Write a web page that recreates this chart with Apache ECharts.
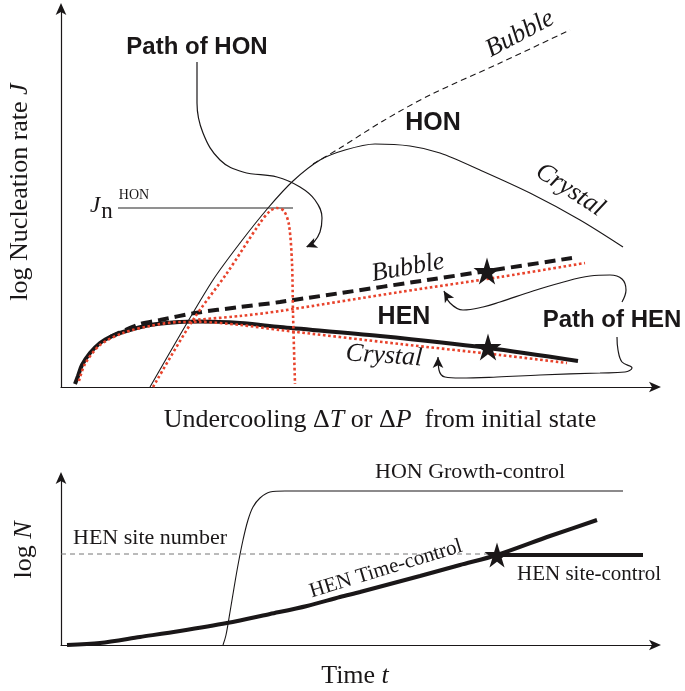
<!DOCTYPE html>
<html><head><meta charset="utf-8">
<script src="https://cdn.jsdelivr.net/npm/echarts@6/dist/echarts.min.js"></script>
<style>html,body{margin:0;padding:0;background:#fff}#c{width:685px;height:691px}</style>
</head><body><div id="c"></div>
<script>
// ---- Top panel (arbitrary schematic units: x = undercooling, y = log J) ----
const henCrystal = [[14,3],[17,11],[21,22],[29,34],[39,44],[49,50],[62,55],[89,62],[119,65],[139,65.5],[179,64],[219,60],[319,51],[427,39],[517,26]];
const henCrystalRed = [[18,6],[24,23],[39,42],[62,54],[89,61],[119,65],[139,65],[179,62],[219,57],[339,43],[439,32],[506,24]];
const henBubble = [[49,50],[62,56],[79,63],[99,67],[134,74],[179,80],[219,85],[426,116],[511,129]];
const henBubbleRed = [[132,67],[179,71],[219,76],[339,95],[439,110],[524,124]];
const honCrystal = [[89,0],[119,52],[152,107],[179,144],[207,179],[232,206],[259,227],[284,237],[314,243],[349,241],[379,234],[419,217],[469,194],[519,167],[562,140]];
const honBubble = [[252,223],[279,239],[322,266],[369,292],[439,324],[509,357]];
const honRed = [[92,0],[132,67],[166,114],[199,164],[209,176],[216,179],[223,176],[228,162],[231,124],[232,74],[234,3]];
const jnLine = [[57,179],[232,179]];
const pathHON = [[136,325],[136,284],[142,254],[159,227],[182,215],[216,210],[239,200],[254,187],[261,169],[259,155],[253,145],[246,140]];
const pathHENup = [[561,85],[565,97],[561,108],[549,112],[529,111],[499,104],[472,96],[439,85],[422,80],[402,77],[389,84],[383,96]];
const pathHENlow = [[556,50],[557,37],[561,25],[571,19],[564,15],[539,14],[479,12],[436,10],[399,9],[384,10],[378,17],[377,30]];
const topStars = [[426,116],[427,40]];
const topArrows = [[245,140,112],[383,96,30],[377,30,0]];
// ---- Bottom panel (x = time, y = log N) ----
const henTime = [[6,0],[39,2],[79,8],[119,14],[166,22],[209,31],[246,39],[279,48],[299,53],[359,69],[399,80],[436,90],[489,109],[536,125]];
const henSite = [[436,90],[582,90]];
const henSiteNumber = [[0,91],[436,91]];
const honGrowth = [[162,0],[165,10],[169,33],[173,57],[177,80],[182,105],[187,125],[192,138],[199,147],[209,153],[224,154],[562,154]];
const bottomStar = [[436,90]];

const STAR = 'path://M50,0 L61,35 L98,35 L68,57 L79,91 L50,70 L21,91 L32,57 L2,35 L39,35 Z';
const RED = '#e8432c', INK = '#1a1718';
function ln(idx, data, color, width, type, smooth, z) {
  return {type:'line', xAxisIndex:idx, yAxisIndex:idx, data, symbol:'none', smooth:smooth,
    lineStyle:{color, width, type, cap:'butt'}, z:z||2, silent:true, animation:false};
}
const axisCommon = {axisTick:{show:false}, axisLabel:{show:false}, splitLine:{show:false}};
const axLine = {show:true, lineStyle:{color:INK, width:1.2}, symbol:['none','arrow'], symbolSize:[8,12], symbolOffset:[0,4]};
const serif = '"Liberation Serif","Times New Roman",serif';
const sans = '"Liberation Sans",Arial,sans-serif';
function txt(x, y, text, size, opt) {
  opt = opt || {};
  return {type:'text', x, y, rotation:(opt.rot||0)*Math.PI/180, z:10,
    style:{text, fill:INK, font:(opt.style||'normal')+' '+(opt.weight||'normal')+' '+size+'px '+(opt.family||serif),
      textAlign:opt.align||'center', textVerticalAlign:'middle', rich:opt.rich}};
}
const chart = echarts.init(document.getElementById('c'), null, {renderer:'canvas'});
chart.setOption({
  animation:false,
  grid:[{left:61, top:7, width:596, height:380}, {left:61, top:476, width:596, height:169}],
  xAxis:[Object.assign({type:'value', gridIndex:0, min:0, max:596, axisLine:axLine}, axisCommon),
         Object.assign({type:'value', gridIndex:1, min:0, max:596, axisLine:axLine}, axisCommon)],
  yAxis:[Object.assign({type:'value', gridIndex:0, min:0, max:380, axisLine:axLine}, axisCommon),
         Object.assign({type:'value', gridIndex:1, min:0, max:169, axisLine:axLine}, axisCommon)],
  series:[
    ln(0, jnLine, '#6d6d6d', 1.3, 'solid', false),
    ln(0, honCrystal, INK, 1.1, 'solid', 0.3),
    ln(0, honBubble, INK, 1.1, [6,4], 0.3),
    ln(0, henCrystal, INK, 4, 'solid', 0.3, 3),
    ln(0, henBubble, INK, 4, [11,6], 0.3, 3),
    ln(0, henCrystalRed, RED, 2.6, [2.6,2.6], 0.3, 4),
    ln(0, henBubbleRed, RED, 2.6, [2.6,2.6], 0.3, 4),
    ln(0, honRed, RED, 2.6, [2.6,2.6], 0.3, 4),
    ln(0, pathHON, INK, 1.2, 'solid', 0.4),
    ln(0, pathHENup, INK, 1.2, 'solid', 0.4),
    ln(0, pathHENlow, INK, 1.2, 'solid', 0.4),
    {type:'scatter', xAxisIndex:0, yAxisIndex:0, data:topStars, symbol:STAR, symbolSize:27, itemStyle:{color:INK, opacity:1}, z:6, silent:true},
    {type:'scatter', xAxisIndex:0, yAxisIndex:0, data:topArrows.map(a=>({value:[a[0],a[1]], symbolRotate:a[2]})), symbol:'arrow', symbolSize:[8,11], itemStyle:{color:INK, opacity:1}, z:6, silent:true},
    ln(1, henSiteNumber, '#777', 1, [5,4], false),
    ln(1, honGrowth, INK, 1.1, 'solid', 0.35),
    ln(1, henTime, INK, 4, 'solid', 0.3, 3),
    ln(1, henSite, INK, 4, 'solid', false, 3),
    {type:'scatter', xAxisIndex:1, yAxisIndex:1, data:bottomStar, symbol:STAR, symbolSize:25, itemStyle:{color:INK, opacity:1}, z:6, silent:true}
  ],
  graphic:[
    txt(20, 192, 'log Nucleation rate {i|J}', 26, {rot:90, rich:{i:{fontStyle:'italic', fontSize:26, fontFamily:serif}}}),
    txt(380, 420, 'Undercooling Δ{i|T} or Δ{i|P}  from initial state', 26, {rich:{i:{fontStyle:'italic', fontSize:26, fontFamily:serif}}}),
    txt(197, 47, 'Path of HON', 24, {weight:'bold', family:sans}),
    txt(433, 123, 'HON', 25, {weight:'bold', family:sans}),
    txt(404, 317, 'HEN', 25, {weight:'bold', family:sans}),
    txt(612, 320, 'Path of HEN', 24, {weight:'bold', family:sans}),
    txt(520, 34, 'Bubble', 26, {style:'italic', rot:28}),
    txt(570, 190, 'Crystal', 26, {style:'italic', rot:-33}),
    txt(408, 268, 'Bubble', 26, {style:'italic', rot:10}),
    txt(384, 356, 'Crystal', 26, {style:'italic', rot:-4}),
    txt(95, 206, 'J', 23, {style:'italic'}),
    txt(107, 212, 'n', 23),
    txt(134, 195, 'HON', 14),
    txt(470, 472, 'HON Growth-control', 22),
    txt(150, 538, 'HEN site number', 22),
    txt(386, 569, 'HEN Time-control', 21, {rot:17}),
    txt(589, 574, 'HEN site-control', 21),
    txt(24, 550, 'log {i|N}', 26, {rot:90, rich:{i:{fontStyle:'italic', fontSize:26, fontFamily:serif}}}),
    txt(355, 676, 'Time {i|t}', 26, {rich:{i:{fontStyle:'italic', fontSize:26, fontFamily:serif}}})
  ]
});
</script></body></html>
